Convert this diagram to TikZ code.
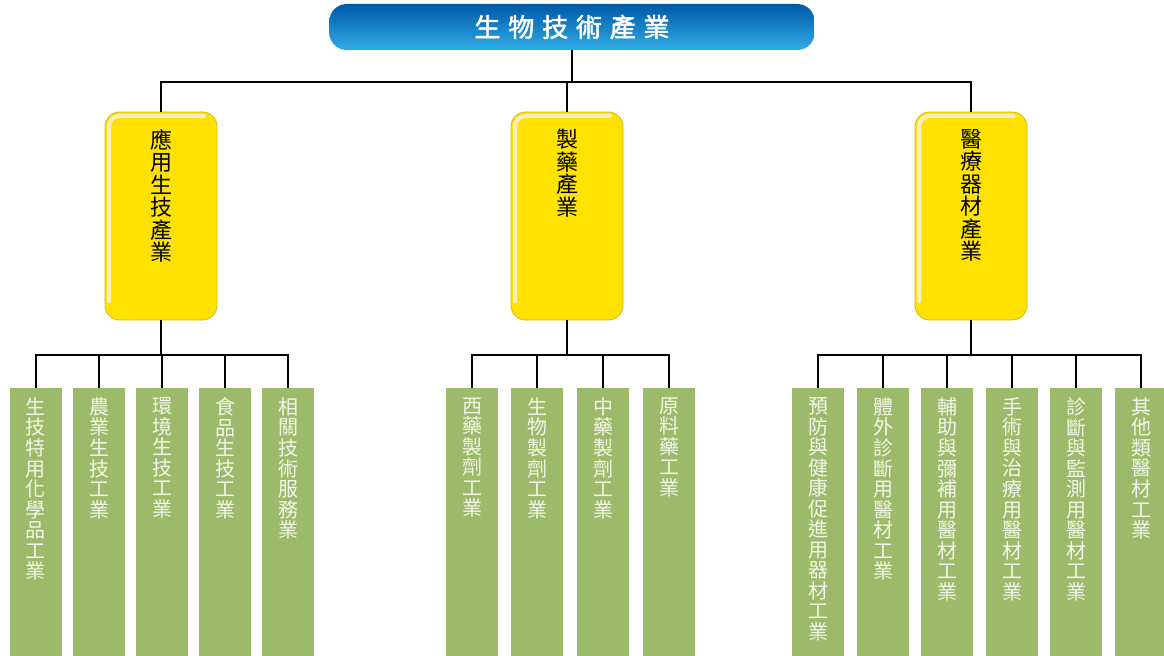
\documentclass[tikz,border=0pt]{standalone}
\usepackage{fontspec}
\newfontfamily\cjk{Noto Sans CJK TC}
\newfontfamily\cjkbf[FakeBold=2]{Noto Sans CJK TC}

\definecolor{topblue}{RGB}{0,88,168}
\definecolor{lowblue}{RGB}{48,172,230}
\definecolor{sectoryellow}{RGB}{255,226,0}
\definecolor{sectoredge}{RGB}{212,186,20}
\definecolor{gloss}{RGB}{255,238,196}
\definecolor{leafgreen}{RGB}{155,187,107}
\definecolor{leaftext}{RGB}{244,246,232}

% one character per line
\def\vchars#1{\ifx#1\relax\else#1\par\expandafter\vchars\fi}
\newcommand{\vcol}[2]{\parbox[t][#1][t]{2em}{\centering\vchars#2\relax}}

\tikzset{
    headbox/.style={rectangle, rounded corners=13pt, minimum width=364pt, minimum height=34.5pt,
        top color=topblue, bottom color=lowblue, draw=none, text=white,
        font=\cjkbf\fontsize{19.5}{20}\selectfont},
    sectorbox/.style={rectangle, rounded corners=11pt, minimum width=84pt, minimum height=156pt,
        inner xsep=0pt, inner ysep=13pt, fill=sectoryellow, draw=sectoredge, line width=0.6pt,
        font=\cjk\fontsize{16.5}{16.9}\selectfont,
        path picture={
            \draw[gloss, line width=3pt, line cap=round, rounded corners=8pt]
                ([xshift=3pt,yshift=14pt]path picture bounding box.south west)
                -- ([xshift=3pt,yshift=-3pt]path picture bounding box.north west)
                -- ([xshift=-10pt,yshift=-3pt]path picture bounding box.north east);
        }},
    leafbox/.style={rectangle, anchor=north, minimum width=39pt, minimum height=201pt,
        inner xsep=0pt, inner ysep=7pt, fill=leafgreen, text=leaftext,
        font=\cjk\fontsize{15}{15.4}\selectfont},
    link/.style={draw=black, line width=1.3pt}
}

\begin{document}
\begin{tikzpicture}[x=0.75pt, y=-0.75pt]
    \useasboundingbox (0,0) rectangle (1164,656);

    \node[headbox] (head) at (572,27) {生\hspace{0.3em}物\hspace{0.3em}技\hspace{0.3em}術\hspace{0.3em}產\hspace{0.3em}業};

    \node[sectorbox] (appl) at (161,216) {\vcol{130pt}{應用生技產業}};
    \node[sectorbox] (pharm) at (567,216) {\vcol{130pt}{製藥產業}};
    \node[sectorbox] (medic) at (971,216) {\vcol{130pt}{醫療器材產業}};

    \coordinate (topjoint) at (572,82);
    \coordinate (appljoint) at (161,355);
    \coordinate (pharmjoint) at (567,355);
    \coordinate (medicjoint) at (971,355);

    % applied biotech
    \node[leafbox] (chem) at (36,388) {\vcol{187pt}{生技特用化學品工業}};
    \node[leafbox] (agri) at (99,388) {\vcol{187pt}{農業生技工業}};
    \node[leafbox] (envi) at (162,388) {\vcol{187pt}{環境生技工業}};
    \node[leafbox] (food) at (225,388) {\vcol{187pt}{食品生技工業}};
    \node[leafbox] (serv) at (288,388) {\vcol{187pt}{相關技術服務業}};

    % pharmaceuticals
    \node[leafbox] (west) at (472,388) {\vcol{187pt}{西藥製劑工業}};
    \node[leafbox] (bioprep) at (537,388) {\vcol{187pt}{生物製劑工業}};
    \node[leafbox] (chinese) at (603,388) {\vcol{187pt}{中藥製劑工業}};
    \node[leafbox] (api) at (669,388) {\vcol{187pt}{原料藥工業}};

    % medical devices
    \node[leafbox] (prev) at (818,388) {\vcol{187pt}{預防與健康促進用器材工業}};
    \node[leafbox] (vitro) at (883,388) {\vcol{187pt}{體外診斷用醫材工業}};
    \node[leafbox] (assist) at (947,388) {\vcol{187pt}{輔助與彌補用醫材工業}};
    \node[leafbox] (surg) at (1012,388) {\vcol{187pt}{手術與治療用醫材工業}};
    \node[leafbox] (diag) at (1076,388) {\vcol{187pt}{診斷與監測用醫材工業}};
    \node[leafbox] (other) at (1141,388) {\vcol{187pt}{其他類醫材工業}};

    \draw[link] (head.south) -- (topjoint);
    \draw[link] (topjoint) -| (appl.north);
    \draw[link] (topjoint) -| (pharm.north);
    \draw[link] (topjoint) -| (medic.north);

    \draw[link] (appl.south) -- (appljoint);
    \draw[link] (appljoint) -| (chem.north);
    \draw[link] (appljoint) -| (agri.north);
    \draw[link] (appljoint) -| (envi.north);
    \draw[link] (appljoint) -| (food.north);
    \draw[link] (appljoint) -| (serv.north);

    \draw[link] (pharm.south) -- (pharmjoint);
    \draw[link] (pharmjoint) -| (west.north);
    \draw[link] (pharmjoint) -| (bioprep.north);
    \draw[link] (pharmjoint) -| (chinese.north);
    \draw[link] (pharmjoint) -| (api.north);

    \draw[link] (medic.south) -- (medicjoint);
    \draw[link] (medicjoint) -| (prev.north);
    \draw[link] (medicjoint) -| (vitro.north);
    \draw[link] (medicjoint) -| (assist.north);
    \draw[link] (medicjoint) -| (surg.north);
    \draw[link] (medicjoint) -| (diag.north);
    \draw[link] (medicjoint) -| (other.north);
\end{tikzpicture}
\end{document}
